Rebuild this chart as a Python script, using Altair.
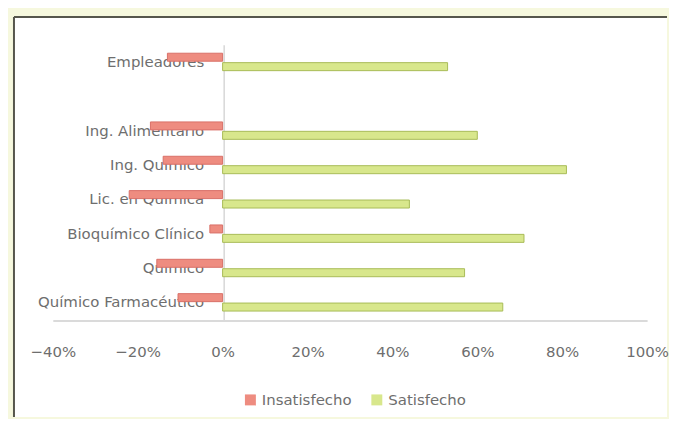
import altair as alt
import pandas as pd

categories = ["Empleadores", " ", "Ing. Alimentario", "Ing. Químico", "Lic. en Química",
              "Bioquímico Clínico", "Químico", "Químico Farmacéutico"]
bar_categories = ["Empleadores", "Ing. Alimentario", "Ing. Químico", "Lic. en Química",
                  "Bioquímico Clínico", "Químico", "Químico Farmacéutico"]
insatisfecho = [-0.13, -0.17, -0.14, -0.22, -0.03, -0.155, -0.105]
satisfecho = [0.53, 0.60, 0.81, 0.44, 0.71, 0.57, 0.66]
series = ["Insatisfecho", "Satisfecho"]
x_ticks = [-0.4, -0.2, 0.0, 0.2, 0.4, 0.6, 0.8, 1.0]

rows = []
for c, a, b in zip(bar_categories, insatisfecho, satisfecho):
    rows.append({"categoria": c, "serie": series[0], "valor": a})
    rows.append({"categoria": c, "serie": series[1], "valor": b})
df = pd.DataFrame(rows)

FONT = "DejaVu Sans"
GRAY = "#6e6e6e"
W, H = 656, 402
FRAME = "#56564c"

bars = alt.Chart(df).mark_bar(strokeWidth=1).encode(
    x=alt.X("valor:Q",
            scale=alt.Scale(domain=[-0.4, 1.0], range=[39, 636], nice=False, zero=True),
            axis=alt.Axis(values=x_ticks, format="%", title=None, grid=False, ticks=False,
                          labelPadding=24, offset=-97, domainColor="#b4b4b4",
                          labelFont=FONT, labelFontSize=15, labelColor=GRAY,
                          labelFlush=False)),
    y=alt.Y("categoria:N",
            scale=alt.Scale(domain=categories, range=[28, 304], paddingInner=0, paddingOuter=0),
            axis=alt.Axis(title=None, ticks=False, labelPadding=20, offset=-210.6,
                          domainColor="#c4c4c4", labelFont=FONT, labelFontSize=15,
                          labelColor=GRAY)),
    yOffset=alt.YOffset("serie:N",
                        scale=alt.Scale(domain=series, paddingInner=0.15, paddingOuter=0.9)),
    color=alt.Color("serie:N",
                    scale=alt.Scale(domain=series, range=["#ee8c80", "#d8e78c"]),
                    legend=alt.Legend(title=None, orient="none", direction="horizontal",
                                      legendX=230, legendY=377, symbolType="square",
                                      symbolSize=121, symbolStrokeWidth=0,
                                      labelFont=FONT, labelFontSize=15, labelColor=GRAY,
                                      labelOffset=4, columnPadding=17)),
    stroke=alt.Stroke("serie:N",
                      scale=alt.Scale(domain=series, range=["#d97068", "#a8bb58"]),
                      legend=None),
)

frame_df = pd.DataFrame({"k": [0]})
left_border = alt.Chart(frame_df).mark_rule(color=FRAME, strokeWidth=2).encode(
    x=alt.value(0), y=alt.value(0), y2=alt.value(H)
)
top_border = alt.Chart(frame_df).mark_rule(color=FRAME, strokeWidth=2).encode(
    x=alt.value(0), x2=alt.value(W), y=alt.value(0)
)

chart = alt.layer(bars, left_border, top_border).properties(
    width=W,
    height=H,
    background="#f6f8de",
    padding={"left": 5, "top": 7, "right": 0, "bottom": 0},
).configure_view(
    fill="white",
    strokeWidth=0,
)

chart.save("out.html", embed_options={"renderer": "svg", "actions": False})
